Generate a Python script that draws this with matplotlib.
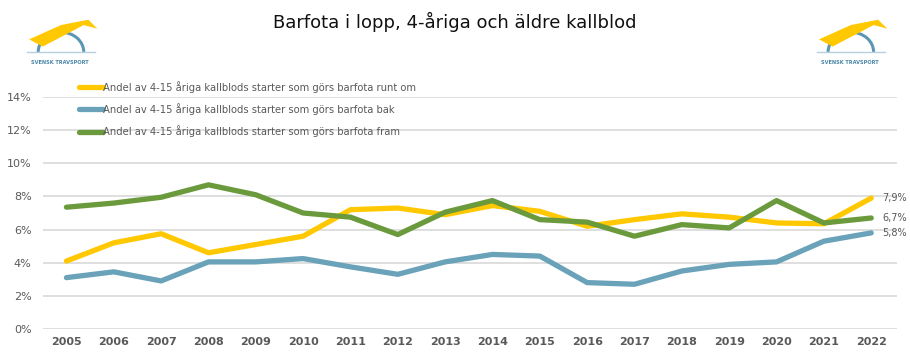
import numpy as np
import matplotlib.pyplot as plt
from matplotlib.patches import Arc, Polygon

years = list(range(2005, 2023))
runt_om = [4.1, 5.2, 5.75, 4.6, 5.1, 5.6, 7.2, 7.3, 6.9, 7.45, 7.1, 6.2, 6.6, 6.95, 6.75, 6.4, 6.35, 7.9]
bak = [3.1, 3.45, 2.9, 4.05, 4.05, 4.25, 3.75, 3.3, 4.05, 4.5, 4.4, 2.8, 2.7, 3.5, 3.9, 4.05, 5.3, 5.8]
fram = [7.35, 7.6, 7.95, 8.7, 8.1, 7.0, 6.75, 5.7, 7.05, 7.75, 6.6, 6.45, 5.6, 6.3, 6.1, 7.75, 6.4, 6.7]

series_names = [
    "Andel av 4-15 åriga kallblods starter som görs barfota runt om",
    "Andel av 4-15 åriga kallblods starter som görs barfota bak",
    "Andel av 4-15 åriga kallblods starter som görs barfota fram",
]
end_labels = ["7,9%", "5,8%", "6,7%"]
yticks = [0, 2, 4, 6, 8, 10, 12, 14]

colors = ["#FFC800", "#6AA2B9", "#6B9A3D"]
gray = "#595959"

fig = plt.figure(figsize=(9.1, 3.58), dpi=100)
ax = fig.add_axes([0.047, 0.081, 0.939, 0.648])

for vals, c, name in zip([runt_om, bak, fram], colors, series_names):
    ax.plot(years, vals, color=c, lw=3.8, solid_capstyle="round", solid_joinstyle="round", label=name)

for vals, c, lab in zip([runt_om, bak, fram], colors, end_labels):
    ax.annotate(lab, (years[-1], vals[-1]), xytext=(8, 0), textcoords="offset points",
                va="center", ha="left", fontsize=7, color=gray)

ax.set_xlim(2004.5, 2022.55)
ax.set_ylim(0, 14)
ax.set_yticks(yticks)
ax.set_yticklabels([f"{t}%" for t in yticks])
ax.set_xticks(years)
ax.set_xticklabels([str(y) for y in years], fontweight="bold")
ax.tick_params(axis="both", length=0, labelsize=8, colors=gray)
ax.tick_params(axis="x", pad=6)
ax.tick_params(axis="y", pad=8)
ax.grid(axis="y", color="#D9D9D9", lw=1.2)
ax.set_axisbelow(True)
for s in ax.spines.values():
    s.set_visible(False)

leg = fig.legend(loc="upper left", bbox_to_anchor=(0.077, 0.8), frameon=False,
                 fontsize=7.2, handlelength=2.4, handletextpad=0.0, labelspacing=1.05,
                 labelcolor=gray)

fig.text(0.5, 0.94, "Barfota i lopp, 4-åriga och äldre kallblod", ha="center", va="center",
         fontsize=13, color="#111111")

# simple logo sketches
def logo(cx, cy):
    fig.add_artist(Arc((cx + 0.005, cy - 0.045), 0.05, 0.11, theta1=0, theta2=180,
                       transform=fig.transFigure, color="#5B96B5", lw=2.2))
    fig.add_artist(Polygon([[cx - 0.03, cy - 0.01], [cx + 0.005, cy + 0.03], [cx + 0.035, cy + 0.045],
                            [cx + 0.045, cy + 0.02], [cx + 0.03, cy + 0.03], [cx - 0.015, cy - 0.03]],
                           closed=True, transform=fig.transFigure, color="#FFC800", lw=0))
    fig.add_artist(plt.Line2D([cx - 0.032, cx + 0.042], [cy - 0.045, cy - 0.045],
                              transform=fig.transFigure, color="#B7D0DD", lw=1.0))
    fig.text(cx + 0.004, cy - 0.075, "SVENSK TRAVSPORT", ha="center", va="center", fontsize=3.6,
             fontweight="bold", color="#4A86A8")

logo(0.062, 0.9)
logo(0.93, 0.9)

fig.savefig("out.png", dpi=100)
